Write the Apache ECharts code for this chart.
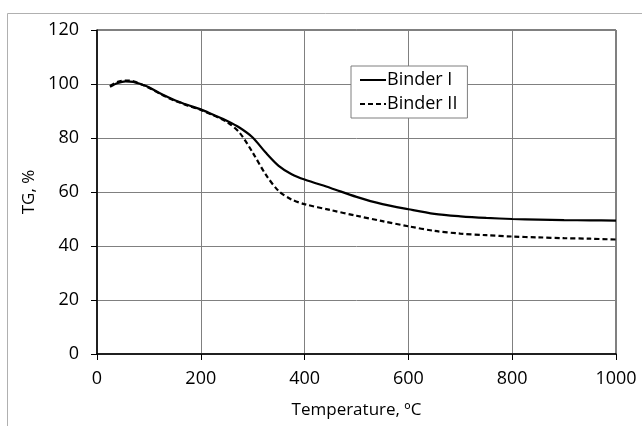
<!DOCTYPE html>
<html>
<head>
<meta charset="utf-8">
<script src="https://cdn.jsdelivr.net/npm/echarts@6/dist/echarts.min.js"></script>
<style>
html,body{margin:0;padding:0;background:#fff;}
#chart{width:642px;height:426px;}
</style>
</head>
<body>
<div id="chart"></div>
<script>
var temperature = [25,40,55,70,85,100,125,150,175,200,225,250,275,300,325,350,375,400,450,500,550,600,650,700,750,800,850,900,950,1000];
var binderI  = [99.0,100.4,101.0,100.8,99.9,98.8,96.2,94.0,92.2,90.6,88.5,86.4,83.8,80.2,74.6,69.7,66.6,64.6,61.5,58.2,55.5,53.6,51.9,51.0,50.4,50.0,49.8,49.6,49.5,49.4];
var binderII = [99.2,100.8,101.3,101.0,99.9,98.6,96.0,93.8,92.0,90.4,88.3,86.0,81.9,74.6,66.5,60.4,57.2,55.5,53.3,51.2,49.2,47.3,45.6,44.6,44.0,43.5,43.2,42.9,42.7,42.4];
var seriesNames = ['Binder I','Binder II'];
var xTitle = 'Temperature, ºC';
var yTitle = 'TG, %';

function pairs(xs, ys){ return xs.map(function(x,i){ return [x, ys[i]]; }); }

var font = 'Open Sans';
var chart = echarts.init(document.getElementById('chart'), null, {renderer:'canvas'});
chart.setOption({
  animation:false,
  backgroundColor:'#fff',
  textStyle:{fontFamily:font},
  graphic:[{
    type:'rect', silent:true,
    shape:{x:7.5,y:13.5,width:700,height:500},
    style:{fill:'none',stroke:'#b0b0b0',lineWidth:1}
  }],
  grid:{left:97,top:30,right:26,bottom:72,show:true,borderColor:'#000',borderWidth:1,backgroundColor:'transparent'},
  legend:{
    left:351, top:66, orient:'vertical',
    data:seriesNames,
    borderColor:'#7f7f7f', borderWidth:1, backgroundColor:'#fff',
    padding:[5,10,5,8], itemGap:6, itemWidth:26, itemHeight:16,
    itemStyle:{opacity:0},
    textStyle:{fontFamily:font,fontSize:18,color:'#000',padding:[0,0,0,-4]}
  },
  xAxis:{
    type:'value', min:0, max:1000, interval:200,
    name:xTitle, nameLocation:'middle', nameGap:48,
    nameTextStyle:{fontFamily:font,fontSize:17,color:'#000'},
    axisLine:{show:true,lineStyle:{color:'#000',width:1.5}},
    axisTick:{show:true,inside:false,length:6,lineStyle:{color:'#000'}},
    axisLabel:{fontFamily:font,fontSize:18,color:'#000',margin:16,formatter:function(v){return String(v);}},
    splitLine:{show:true,lineStyle:{color:'#808080',width:1}}
  },
  yAxis:{
    type:'value', min:0, max:120, interval:20,
    name:yTitle, nameLocation:'middle', nameGap:58, nameRotate:90,
    nameTextStyle:{fontFamily:font,fontSize:17,color:'#000'},
    axisLine:{show:true,lineStyle:{color:'#000',width:1.5}},
    axisTick:{show:true,inside:false,length:6,lineStyle:{color:'#000'}},
    axisLabel:{fontFamily:font,fontSize:18,color:'#000',margin:18},
    splitLine:{show:true,lineStyle:{color:'#808080',width:1}}
  },
  series:[
    {name:seriesNames[0], type:'line', data:pairs(temperature,binderI), smooth:0.3, symbol:'none',
     lineStyle:{color:'#000',width:2.2,type:'solid'}, itemStyle:{color:'#000'}},
    {name:seriesNames[1], type:'line', data:pairs(temperature,binderII), smooth:0.3, symbol:'none',
     lineStyle:{color:'#000',width:2.2,type:[5,3]}, itemStyle:{color:'#000'}}
  ]
});
</script>
</body>
</html>
